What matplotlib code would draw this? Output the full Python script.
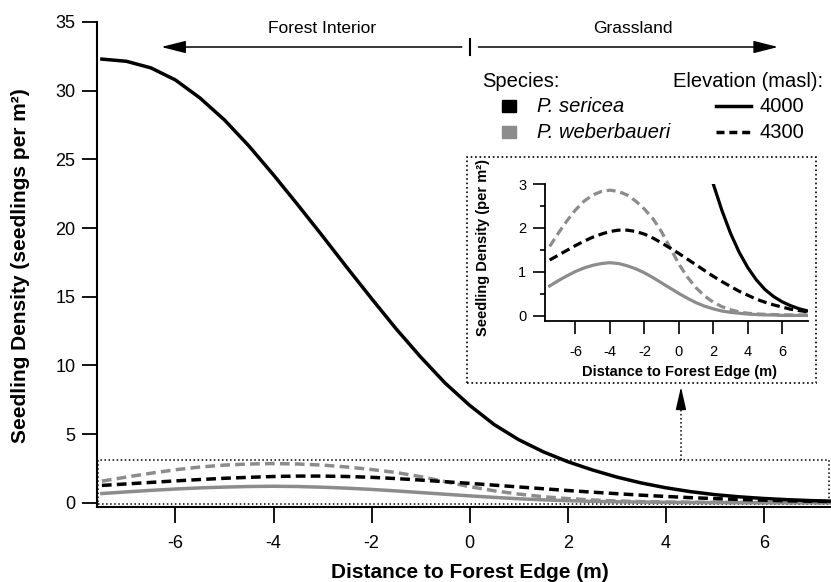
import numpy as np
import matplotlib.pyplot as plt
from matplotlib.patches import Rectangle
from matplotlib.lines import Line2D

plt.rcParams['font.family'] = ['Liberation Sans', 'DejaVu Sans']
plt.rcParams['axes.unicode_minus'] = False

# distance to forest edge (m), negative = forest interior
dist = np.arange(-7.5, 7.51, 0.5)

# seedling density (seedlings per m2)
sericea_4000 = [32.3, 32.14, 31.66, 30.78, 29.47, 27.87, 25.97, 23.87, 21.67, 19.42,
                17.12, 14.87, 12.67, 10.62, 8.72, 7.1, 5.7, 4.6, 3.72, 3.0,
                2.4, 1.88, 1.45, 1.1, 0.82, 0.6, 0.44, 0.32, 0.23, 0.16, 0.11]
sericea_4300 = [1.27, 1.38, 1.49, 1.6, 1.7, 1.79, 1.86, 1.92, 1.95, 1.95,
                1.92, 1.86, 1.77, 1.66, 1.54, 1.42, 1.29, 1.16, 1.03, 0.9,
                0.78, 0.67, 0.56, 0.47, 0.38, 0.31, 0.25, 0.2, 0.15, 0.12, 0.09]
weber_4000 = [0.68, 0.8, 0.91, 1.01, 1.09, 1.15, 1.19, 1.21, 1.19, 1.14,
              1.07, 0.98, 0.87, 0.75, 0.63, 0.51, 0.4, 0.3, 0.22, 0.16,
              0.11, 0.08, 0.06, 0.04, 0.03, 0.02, 0.02, 0.01, 0.01, 0.01, 0.01]
weber_4300 = [1.58, 1.88, 2.16, 2.41, 2.61, 2.75, 2.83, 2.86, 2.83, 2.75,
              2.61, 2.43, 2.21, 1.91, 1.55, 1.18, 0.88, 0.64, 0.45, 0.31,
              0.21, 0.14, 0.09, 0.06, 0.045, 0.035, 0.03, 0.025, 0.02, 0.02, 0.02]

GRAY = '#8c8c8c'
DASH = (0, (2.8, 1.5))
W, H = 831, 582


def draw_curves(a, lw):
    a.plot(dist, weber_4000, color=GRAY, lw=lw)
    a.plot(dist, weber_4300, color=GRAY, lw=lw, ls=DASH)
    a.plot(dist, sericea_4300, color='k', lw=lw, ls=DASH)
    a.plot(dist, sericea_4000, color='k', lw=lw)


def fx(px):
    return px / W


def fy(py):
    return 1 - py / H


fig = plt.figure(figsize=(W / 100, H / 100), dpi=100)

# main panel
ax = fig.add_axes([fx(97), fy(507), 1 - fx(97), fy(22) - fy(507)])
draw_curves(ax, 2.5)
ax.set_xlim(-7.6, 7.37)
ax.set_ylim(-0.3, 35)
ax.set_xticks(range(-6, 7, 2))
ax.set_yticks(range(0, 36, 5))
for s in ['top', 'right']:
    ax.spines[s].set_visible(False)
for s in ['left', 'bottom']:
    ax.spines[s].set_linewidth(1.5)
ax.tick_params(axis='both', direction='out', width=1.3, labelsize=13)
ax.tick_params(axis='x', length=11.5, pad=9)
ax.tick_params(axis='y', length=10.5, pad=5)

fig.text(fx(470), fy(572), 'Distance to Forest Edge (m)', fontsize=15,
         fontweight='bold', ha='center', va='center')
fig.text(fx(21), fy(266), 'Seedling Density (seedlings per m²)', fontsize=15,
         fontweight='bold', ha='center', va='center', rotation=90)

# dotted zoom box and pointer
ax.add_patch(Rectangle((-7.57, -0.07), 14.9, 3.2, fill=False, ls=':', lw=1.1,
                       ec='k', clip_on=False))
ax.plot([4.31, 4.31], [3.13, 7.5], ls=':', lw=1.1, color='k')
ax.annotate('', xy=(4.31, 8.44), xytext=(4.31, 7.2),
            arrowprops=dict(arrowstyle='-|>,head_length=0.7,head_width=0.16',
                            mutation_scale=20, color='k', lw=1,
                            shrinkA=0, shrinkB=0))

# forest interior / grassland arrows
arrow_style = dict(arrowstyle='-|>,head_length=0.75,head_width=0.19',
                   mutation_scale=20, color='k', lw=1.1, shrinkA=0, shrinkB=0)
ax.annotate('', xy=(-6.29, 33.18), xytext=(-0.16, 33.18),
            arrowprops=arrow_style, annotation_clip=False)
ax.annotate('', xy=(6.29, 33.18), xytext=(0.18, 33.18),
            arrowprops=arrow_style, annotation_clip=False)
ax.plot([0, 0], [32.6, 33.76], color='k', lw=1.5, clip_on=False)
ax.text(-3.02, 34.5, 'Forest Interior', fontsize=12.5, ha='center', va='center')
ax.text(3.33, 34.5, 'Grassland', fontsize=12.5, ha='center', va='center')

# legend
fig.text(fx(482), fy(82), 'Species:', fontsize=14.5, va='center')
fig.add_artist(Rectangle((fx(502), fy(112)), fx(14), fy(0) - fy(12),
                         transform=fig.transFigure, color='k'))
fig.add_artist(Rectangle((fx(502), fy(138)), fx(14), fy(0) - fy(12),
                         transform=fig.transFigure, color=GRAY))
fig.text(fx(537), fy(106), 'P. sericea', fontsize=14.5, style='italic', va='center')
fig.text(fx(537), fy(132), 'P. weberbaueri', fontsize=14.5, style='italic', va='center')
fig.text(fx(673), fy(82), 'Elevation (masl):', fontsize=14.5, va='center')
fig.add_artist(Line2D([fx(716), fx(751)], [fy(106), fy(106)], color='k', lw=2.5,
                      transform=fig.transFigure))
fig.add_artist(Line2D([fx(716), fx(751)], [fy(132), fy(132)], color='k', lw=2.5,
                      ls=(0, (2.3, 1.4)), transform=fig.transFigure))
fig.text(fx(759), fy(106), '4000', fontsize=14.5, va='center')
fig.text(fx(759), fy(132), '4300', fontsize=14.5, va='center')

# inset
fig.add_artist(Rectangle((fx(467), fy(383)), fx(816) - fx(467), fy(157) - fy(383),
                         transform=fig.transFigure, fill=False, ls=':', lw=1.2,
                         ec='k'))
axin = fig.add_axes([fx(545), fy(320.7), fx(808) - fx(545), fy(184) - fy(320.7)])
draw_curves(axin, 2.3)
axin.set_xlim(-7.77, 7.5)
axin.set_ylim(-0.11, 3.0)
axin.set_xticks(range(-6, 7, 2))
axin.set_yticks(range(0, 4))
axin.set_yticks([0.5, 1.5, 2.5], minor=True)
axin.patch.set_alpha(0)
for s in ['top', 'right']:
    axin.spines[s].set_visible(False)
for s in ['left', 'bottom']:
    axin.spines[s].set_linewidth(1.3)
axin.tick_params(axis='both', which='major', direction='out', width=1.2, labelsize=10.5)
axin.tick_params(axis='x', length=9.5, pad=8)
axin.tick_params(axis='y', which='major', length=8.4, pad=5)
axin.tick_params(axis='y', which='minor', direction='out', length=3.5, width=1.2)
fig.text(fx(679), fy(372), 'Distance to Forest Edge (m)', fontsize=10.5,
         fontweight='bold', ha='center', va='center')
fig.text(fx(483), fy(248), 'Seedling Density (per m²)', fontsize=10.5,
         fontweight='bold', ha='center', va='center', rotation=90)

fig.savefig('out.png', dpi=100)
